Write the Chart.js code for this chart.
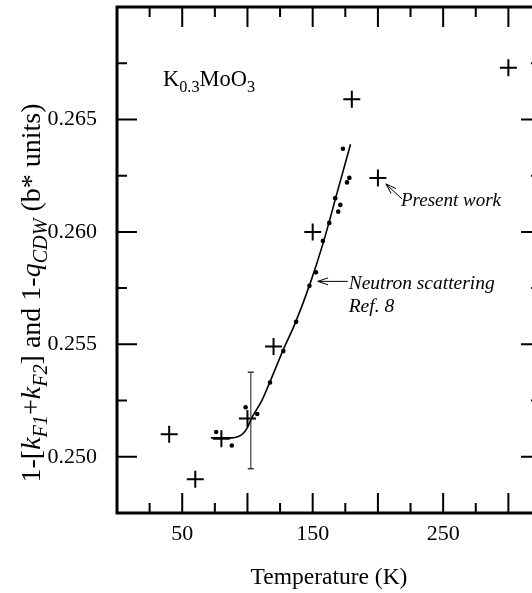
<!DOCTYPE html>
<html>
<head>
<meta charset="utf-8">
<script src="https://cdn.jsdelivr.net/npm/chart.js@4/dist/chart.umd.min.js"></script>
<style>
  html, body { margin: 0; padding: 0; background: #fff; overflow: hidden; }
  #wrap { width: 545px; height: 593px; }
</style>
</head>
<body>
<div id="wrap"><canvas id="c" width="545" height="593"></canvas></div>
<script>
// ---- data ----
const presentT = [40, 60, 80, 100, 120, 150, 180, 200, 300];
const presentQ = [0.2510, 0.2490, 0.2508, 0.2517, 0.2549, 0.2600, 0.2659, 0.2624, 0.2673];

const neutronT = [76, 88, 98.6, 107.5, 117.3, 127.5, 137.3, 147.5, 152.5, 157.8, 162.7, 167.3, 169.6, 171.2, 173.2, 176.3, 178.1];
const neutronQ = [0.2511, 0.2505, 0.2522, 0.2519, 0.2533, 0.2547, 0.2560, 0.2576, 0.2582, 0.2596, 0.2604, 0.2615, 0.2609, 0.2612, 0.2637, 0.2622, 0.2624];

const fitT = [72, 88, 93, 97, 100, 103, 107, 111, 117, 127, 137, 148, 158, 169, 179];
const fitQ = [0.25084, 0.25084, 0.2509, 0.25106, 0.2513, 0.2517, 0.2521, 0.2525, 0.2533, 0.2547, 0.2560, 0.2577, 0.2595, 0.2618, 0.2639];

const errT = [102.5, 102.5];
const errQ = [0.25376, 0.24947];

const xTickLabels = ['50', '150', '250'];
const yTickLabels = ['0.250', '0.255', '0.260', '0.265'];

const xTitle = 'Temperature (K)';
const seriesNames = ['Present work', 'Neutron scattering', 'Ref. 8'];
const compound = [['K', false], ['0.3', true], ['MoO', false], ['3', true]];

// ---- helpers ----
const pts = (xs, ys) => xs.map((x, i) => ({ x: x, y: ys[i] }));
const FONT = "'Liberation Serif', 'Times New Roman', serif";

function richWidth(ctx, segs, size) {
  let w = 0;
  for (const s of segs) {
    const fs = s.sub ? size * 0.72 : size;
    ctx.font = (s.it ? 'italic ' : '') + fs + 'px ' + FONT;
    w += ctx.measureText(s.t).width;
  }
  return w;
}
function drawRich(ctx, segs, x, y, size) {
  let cx = x;
  for (const s of segs) {
    const fs = s.sub ? size * 0.72 : size;
    ctx.font = (s.it ? 'italic ' : '') + fs + 'px ' + FONT;
    ctx.fillText(s.t, cx, s.sub ? y + size * 0.26 : y);
    cx += ctx.measureText(s.t).width;
  }
}
function arrow(ctx, x1, y1, x2, y2) {
  ctx.beginPath();
  ctx.moveTo(x1, y1); ctx.lineTo(x2, y2);
  const a = Math.atan2(y2 - y1, x2 - x1);
  const L = 11, w = 0.32;
  for (const d of [-1, 1]) {
    ctx.moveTo(x2, y2);
    ctx.lineTo(x2 - L * Math.cos(a + d * w), y2 - L * Math.sin(a + d * w));
  }
  ctx.stroke();
}

const framePlugin = {
  id: 'frame',
  afterDatasetsDraw(chart) {
    const ctx = chart.ctx;
    const a = chart.chartArea;
    const xs = chart.scales.x, ys = chart.scales.y;
    ctx.save();
    ctx.strokeStyle = '#000';
    ctx.fillStyle = '#000';
    ctx.lineWidth = 2;
    ctx.beginPath();
    for (const t of xs.ticks) {
      if (t.value <= xs.min || t.value >= xs.max) continue;
      const px = xs.getPixelForValue(t.value);
      const len = (Math.round(t.value) % 50 === 0) ? 20 : 10;
      ctx.moveTo(px, a.bottom); ctx.lineTo(px, a.bottom - len);
      ctx.moveTo(px, a.top); ctx.lineTo(px, a.top + len);
    }
    for (const t of ys.ticks) {
      if (t.value <= ys.min + 1e-9 || t.value >= ys.max - 1e-9) continue;
      const py = ys.getPixelForValue(t.value);
      const len = (Math.round(t.value * 10000) % 50 === 0) ? 20 : 10;
      ctx.moveTo(a.left, py); ctx.lineTo(a.left + len, py);
      ctx.moveTo(a.right, py); ctx.lineTo(a.right - len, py);
    }
    ctx.stroke();
    ctx.lineWidth = 3;
    ctx.strokeRect(a.left, a.top, a.right - a.left, a.bottom - a.top);

    ctx.textBaseline = 'alphabetic';
    ctx.textAlign = 'left';
    drawRich(ctx, compound.map(c => ({ t: c[0], sub: c[1] })), 163, 86, 22.5);

    ctx.lineWidth = 1;
    const pwx = xs.getPixelForValue(presentT[7]), pwy = ys.getPixelForValue(presentQ[7]);
    arrow(ctx, pwx + 24, pwy + 21, pwx + 8, pwy + 6);
    ctx.font = 'italic 19px ' + FONT;
    ctx.fillText(seriesNames[0], pwx + 23, pwy + 28);

    const nx = xs.getPixelForValue(150), ny = ys.getPixelForValue(0.2578);
    arrow(ctx, nx + 35, ny, nx + 5, ny);
    ctx.font = 'italic 19.5px ' + FONT;
    ctx.fillText(seriesNames[1], nx + 36, ny + 8);
    ctx.fillText(seriesNames[2], nx + 36, ny + 31);

    ctx.font = '23.5px ' + FONT;
    ctx.textAlign = 'center';
    ctx.fillText(xTitle, (a.left + a.right) / 2, 584);

    const segs = [
      { t: '1-[' }, { t: 'k', it: true }, { t: 'F1', it: true, sub: true },
      { t: '+' }, { t: 'k', it: true }, { t: 'F2', it: true, sub: true },
      { t: '] and 1-' }, { t: 'q', it: true }, { t: 'CDW', it: true, sub: true },
      { t: ' (b* units)' }
    ];
    ctx.textAlign = 'left';
    const size = 28;
    const w = richWidth(ctx, segs, size);
    ctx.translate(40, 293);
    ctx.rotate(-Math.PI / 2);
    drawRich(ctx, segs, -w / 2, 0, size);
    ctx.restore();
  }
};

new Chart(document.getElementById('c'), {
  type: 'scatter',
  data: {
    datasets: [
      {
        label: 'fit',
        data: pts(fitT, fitQ),
        showLine: true,
        borderColor: '#000',
        borderWidth: 1.6,
        pointRadius: 0,
        cubicInterpolationMode: 'monotone',
        fill: false
      },
      {
        label: 'error',
        data: pts(errT, errQ),
        showLine: true,
        borderColor: '#666',
        borderWidth: 1,
        pointStyle: 'line',
        pointRadius: 3,
        pointBorderColor: '#333',
        pointBorderWidth: 1.5
      },
      {
        label: seriesNames[1],
        data: pts(neutronT, neutronQ),
        pointStyle: 'circle',
        pointRadius: 2.3,
        backgroundColor: '#000',
        borderColor: '#000',
        borderWidth: 0
      },
      {
        label: seriesNames[0],
        data: pts(presentT, presentQ),
        pointStyle: 'cross',
        pointRadius: 8.5,
        borderColor: '#000',
        borderWidth: 2
      }
    ]
  },
  options: {
    responsive: false,
    animation: false,
    devicePixelRatio: 1,
    layout: { autoPadding: false, padding: { left: 0, top: 7, right: 4, bottom: 0 } },
    plugins: { legend: { display: false }, tooltip: { enabled: false } },
    scales: {
      x: {
        type: 'linear', min: 0, max: 325,
        grid: { display: false, drawTicks: false },
        border: { display: false },
        ticks: {
          stepSize: 25, autoSkip: false, maxRotation: 0, padding: 8,
          color: '#000', font: { family: FONT, size: 22 },
          callback: v => (xTickLabels.includes(String(v)) ? String(v) : '')
        },
        afterFit: s => { s.height = 80; s.paddingLeft = 0; s.paddingRight = 0; }
      },
      y: {
        type: 'linear', min: 0.2475, max: 0.27,
        grid: { display: false, drawTicks: false },
        border: { display: false },
        ticks: {
          stepSize: 0.0025, autoSkip: false, padding: 20,
          color: '#000', font: { family: FONT, size: 22 },
          callback: v => { const s = v.toFixed(3); return (Math.round(v * 10000) % 50 === 0 && yTickLabels.includes(s)) ? s : ''; }
        },
        afterFit: s => { s.width = 117; s.paddingTop = 0; s.paddingBottom = 0; }
      }
    }
  },
  plugins: [framePlugin]
});
</script>
</body>
</html>
